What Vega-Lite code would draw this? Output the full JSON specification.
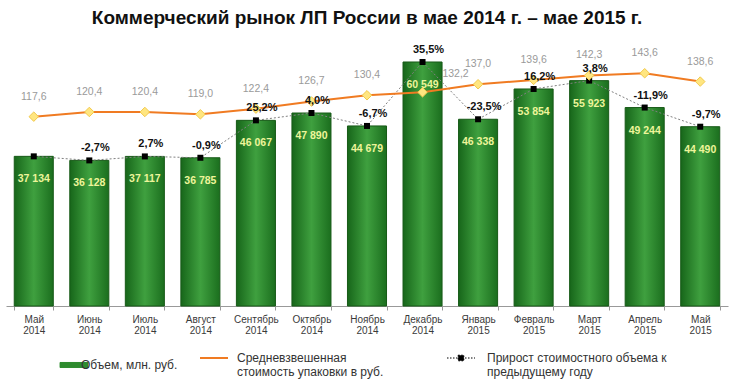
{
  "$schema": "https://vega.github.io/schema/vega-lite/v6.json",
  "width": 722,
  "height": 271,
  "autosize": {"type": "none"},
  "padding": {"left": 6, "top": 35, "right": 10, "bottom": 76},
  "title": {
    "text": "Коммерческий рынок ЛП России в мае 2014 г. –  мае 2015 г.",
    "font": "Liberation Sans",
    "fontSize": 19,
    "fontWeight": "bold",
    "color": "#111111",
    "anchor": "middle",
    "frame": "group",
    "offset": 7
  },
  "config": {
    "view": {"stroke": null},
    "locale": {
      "number": {
        "decimal": ",",
        "thousands": " ",
        "grouping": [3],
        "currency": ["", ""],
        "minus": "-"
      }
    },
    "legend": {
      "orient": "none",
      "legendX": 62,
      "legendY": 317,
      "direction": "horizontal",
      "title": null,
      "padding": 0,
      "symbolSize": 784,
      "labelFont": "Liberation Sans",
      "labelFontSize": 12,
      "labelColor": "#333333",
      "labelLimit": 400,
      "columnPadding": 18
    }
  },
  "data": {
    "values": [
      {"month": "Май 2014", "volume": 37134, "price": 117.6, "growth": null},
      {"month": "Июнь 2014", "volume": 36128, "price": 120.4, "growth": -0.027},
      {"month": "Июль 2014", "volume": 37117, "price": 120.4, "growth": 0.027},
      {"month": "Август 2014", "volume": 36785, "price": 119.0, "growth": -0.009},
      {"month": "Сентябрь 2014", "volume": 46067, "price": 122.4, "growth": 0.252},
      {"month": "Октябрь 2014", "volume": 47890, "price": 126.7, "growth": 0.040},
      {"month": "Ноябрь 2014", "volume": 44679, "price": 130.4, "growth": -0.067},
      {"month": "Декабрь 2014", "volume": 60549, "price": 132.2, "growth": 0.355},
      {"month": "Январь 2015", "volume": 46338, "price": 137.0, "growth": -0.235},
      {"month": "Февраль 2015", "volume": 53854, "price": 139.6, "growth": 0.162},
      {"month": "Март 2015", "volume": 55923, "price": 142.3, "growth": 0.038},
      {"month": "Апрель 2015", "volume": 49244, "price": 143.6, "growth": -0.119},
      {"month": "Май 2015", "volume": 44490, "price": 138.6, "growth": -0.097}
    ]
  },
  "encoding": {
    "x": {
      "field": "month",
      "type": "ordinal",
      "sort": null,
      "scale": {"paddingInner": 0.297, "paddingOuter": 0.1485},
      "axis": {
        "title": null,
        "labelAngle": 0,
        "labelExpr": "split(datum.label, ' ')",
        "labelFont": "Liberation Sans",
        "labelFontSize": 10,
        "labelColor": "#3a3a3a",
        "labelLineHeight": 11,
        "labelPadding": 4,
        "domainColor": "#999999",
        "tickColor": "#999999",
        "tickSize": 4,
        "tickBand": "extent"
      }
    }
  },
  "layer": [
    {
      "mark": {
        "type": "bar",
        "fill": {
          "gradient": "linear",
          "x1": 0, "x2": 1, "y1": 0, "y2": 0,
          "stops": [
            {"offset": 0, "color": "#17661a"},
            {"offset": 0.5, "color": "#3fa03f"},
            {"offset": 1, "color": "#1b6e1e"}
          ]
        },
        "stroke": "#175a17",
        "strokeWidth": 1
      },
      "encoding": {
        "y": {"field": "volume", "type": "quantitative", "scale": {"domain": [0, 67246], "nice": false}, "axis": null},
        "color": {
          "datum": "Объем, млн. руб.",
          "scale": {
            "domain": ["Объем, млн. руб.", "Средневзвешенная стоимость упаковки в руб.", "Прирост стоимостного объема к предыдущему году"],
            "range": ["#2e8b2e", "#f07b22", "#000000"]
          },
          "legend": {
            "labelExpr": "datum.value === 'Средневзвешенная стоимость упаковки в руб.' ? ['Средневзвешенная', 'стоимость упаковки в руб.\u00a0\u00a0\u00a0\u00a0\u00a0\u00a0\u00a0\u00a0\u00a0\u00a0\u00a0\u00a0\u00a0\u200b'] : datum.value === 'Прирост стоимостного объема к предыдущему году' ? ['Прирост стоимостного объема к', 'предыдущему году'] : datum.value",
            "labelOffset": {"expr": "datum.value === 'Объем, млн. руб.' ? 1 : datum.value === 'Средневзвешенная стоимость упаковки в руб.' ? 17 : 20"},
            "symbolType": {"expr": "datum.value === 'Объем, млн. руб.' ? 'M-1,-0.18H1V0.18H-1Z' : datum.value === 'Средневзвешенная стоимость упаковки в руб.' ? 'M-1,0H1' : 'M-1,0H1M-0.2,-0.2H0.2V0.2H-0.2Z'"},
            "symbolDash": {"expr": "datum.value === 'Прирост стоимостного объема к предыдущему году' ? [1.5, 1.5] : [1, 0]"},
            "symbolStrokeWidth": {"expr": "datum.value === 'Средневзвешенная стоимость упаковки в руб.' ? 2 : 1"}
          }
        }
      }
    },
    {
      "mark": {"type": "text", "dy": 23, "baseline": "middle", "font": "Liberation Sans", "fontSize": 10.5, "fontWeight": "bold", "fill": "#eef59a"},
      "encoding": {
        "y": {"field": "volume", "type": "quantitative", "scale": {"domain": [0, 67246], "nice": false}, "axis": null},
        "text": {"field": "volume", "type": "quantitative", "format": ",d"}
      }
    },
    {
      "mark": {"type": "line", "stroke": "#808080", "strokeWidth": 1, "strokeDash": [2, 2]},
      "encoding": {
        "y": {"field": "volume", "type": "quantitative", "scale": {"domain": [0, 67246], "nice": false}, "axis": null}
      }
    },
    {
      "mark": {"type": "point", "shape": "square", "filled": true, "size": 36, "opacity": 1},
      "encoding": {
        "y": {"field": "volume", "type": "quantitative", "scale": {"domain": [0, 67246], "nice": false}, "axis": null},
        "color": {
          "datum": "Прирост стоимостного объема к предыдущему году",
          "scale": {
            "domain": ["Объем, млн. руб.", "Средневзвешенная стоимость упаковки в руб.", "Прирост стоимостного объема к предыдущему году"],
            "range": ["#2e8b2e", "#f07b22", "#000000"]
          }
        }
      }
    },
    {
      "mark": {"type": "line", "strokeWidth": 2},
      "encoding": {
        "y": {"field": "price", "type": "quantitative", "scale": {"domain": [4.2, 166.5], "nice": false, "zero": false}, "axis": null},
        "color": {
          "datum": "Средневзвешенная стоимость упаковки в руб.",
          "scale": {
            "domain": ["Объем, млн. руб.", "Средневзвешенная стоимость упаковки в руб.", "Прирост стоимостного объема к предыдущему году"],
            "range": ["#2e8b2e", "#f07b22", "#000000"]
          }
        }
      }
    },
    {
      "mark": {"type": "point", "shape": "diamond", "filled": true, "size": 90, "fill": "#ffe680", "stroke": "#f2c94c", "strokeWidth": 1, "opacity": 1},
      "encoding": {
        "y": {"field": "price", "type": "quantitative", "scale": {"domain": [4.2, 166.5], "nice": false, "zero": false}, "axis": null}
      }
    },
    {
      "transform": [{"filter": "datum.month !== 'Декабрь 2014'"}],
      "mark": {"type": "text", "dy": -20, "baseline": "middle", "font": "Liberation Sans", "fontSize": 10.5, "fill": "#9a9a9a"},
      "encoding": {
        "y": {"field": "price", "type": "quantitative", "scale": {"domain": [4.2, 166.5], "nice": false, "zero": false}, "axis": null},
        "text": {"field": "price", "type": "quantitative", "format": ".1f"}
      }
    },
    {
      "transform": [{"filter": "datum.month === 'Декабрь 2014'"}],
      "mark": {"type": "text", "dy": -18, "dx": 33, "baseline": "middle", "font": "Liberation Sans", "fontSize": 10.5, "fill": "#9a9a9a"},
      "encoding": {
        "y": {"field": "price", "type": "quantitative", "scale": {"domain": [4.2, 166.5], "nice": false, "zero": false}, "axis": null},
        "text": {"field": "price", "type": "quantitative", "format": ".1f"}
      }
    },
    {
      "transform": [{"filter": "datum.growth != null"}],
      "mark": {"type": "text", "dy": -12, "dx": 6, "baseline": "middle", "font": "Liberation Sans", "fontSize": 11, "fontWeight": "bold", "fill": "#111111"},
      "encoding": {
        "y": {"field": "volume", "type": "quantitative", "scale": {"domain": [0, 67246], "nice": false}, "axis": null},
        "text": {"field": "growth", "type": "quantitative", "format": ".1%"}
      }
    }
  ],
  "resolve": {"scale": {"y": "independent"}}
}
